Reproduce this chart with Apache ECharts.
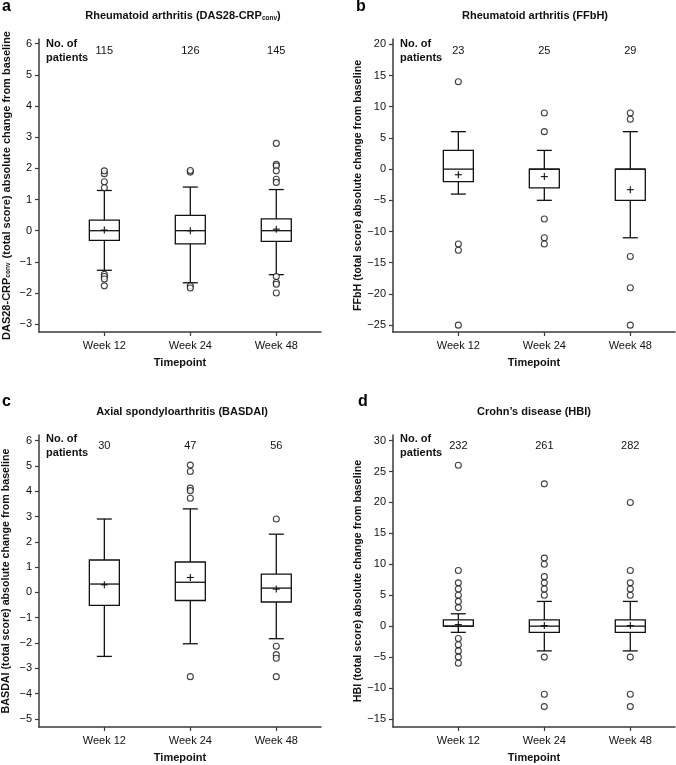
<!DOCTYPE html>
<html><head><meta charset="utf-8">
<script src="https://cdn.jsdelivr.net/npm/echarts@6/dist/echarts.min.js"></script>
<style>html,body{margin:0;padding:0;background:#fff}#c{width:676px;height:765px}</style>
</head><body><div id="c"></div>
<script>
const categories = ['Week 12', 'Week 24', 'Week 48'];

// Panel a: DAS28-CRP(conv)
const dasN = [115, 126, 145];
// [lower whisker, Q1, median, Q3, upper whisker]
const dasBox = [[-1.27, -0.31, 0, 0.34, 1.29], [-1.67, -0.42, 0, 0.49, 1.40], [-1.41, -0.34, 0, 0.38, 1.32]];
const dasMean = [0.02, 0.0, 0.05];
const dasOutliers = [[1.38, 1.57, 1.83, 1.92, -1.40, -1.47, -1.55, -1.77], [1.88, 1.93, -1.77, -1.84], [2.8, 2.13, 2.08, 1.92, 1.65, 1.55, -1.47, -1.66, -1.72, -2.0]];
const dasTicks = [-3, -2, -1, 0, 1, 2, 3, 4, 5, 6];

// Panel b: FFbH
const ffbhN = [23, 25, 29];
const ffbhBox = [[-4, -2, 0, 3, 6], [-5, -3, 0, 0, 3], [-11, -5, 0, 0, 6]];
const ffbhMean = [-0.9, -1.2, -3.3];
const ffbhOutliers = [[14, -12, -13, -25], [9, 6, -8, -11, -12], [9, 8, -14, -19, -25]];
const ffbhTicks = [-25, -20, -15, -10, -5, 0, 5, 10, 15, 20];

// Panel c: BASDAI
const basN = [30, 47, 56];
const basBox = [[-2.53, -0.51, 0.33, 1.28, 2.9], [-2.03, -0.32, 0.4, 1.2, 3.3], [-1.83, -0.38, 0.17, 0.72, 2.3]];
const basMean = [0.3, 0.59, 0.13];
const basOutliers = [[], [5.03, 4.78, 4.12, 4.02, 3.72, -3.33], [2.9, -2.13, -2.46, -2.6, -3.33]];
const basTicks = [-5, -4, -3, -2, -1, 0, 1, 2, 3, 4, 5, 6];

// Panel d: HBI
const hbiN = [232, 261, 282];
const hbiBox = [[-1, 0, 0, 1, 2], [-4, -1, 0, 1, 4], [-4, -1, 0, 1, 4]];
const hbiMean = [0.25, 0.1, 0.1];
const hbiOutliers = [[26, 9, 7, 6, 5, 4, 3, -2, -3, -4, -5, -6], [23, 11, 10, 8, 7, 6, 5, -5, -11, -13], [20, 9, 7, 6, 5, -5, -11, -13]];
const hbiTicks = [-15, -10, -5, 0, 5, 10, 15, 20, 25, 30];

const FONT = '"Liberation Sans", Arial, Helvetica, sans-serif';
const INK = '#111';
const AXIS = '#3a3a3a';

const panels = [
  { letter: 'a', title: 'Rheumatoid arthritis (DAS28-CRP{sub|conv})',
    yName: 'DAS28-CRP{sub|conv} (total score) absolute change from baseline',
    N: dasN, box: dasBox, mean: dasMean, out: dasOutliers, ticks: dasTicks,
    yMin: -3.25, yMax: 6.15, nY: 5.77, nameSize: 11,
    grid: { left: 38, top: 39, width: 283, height: 293 }, titleX: 183, titleY: 16, letterX: 2, letterY: 7 },
  { letter: 'b', title: 'Rheumatoid arthritis (FFbH)',
    yName: 'FFbH (total score) absolute change from baseline',
    N: ffbhN, box: ffbhBox, mean: ffbhMean, out: ffbhOutliers, ticks: ffbhTicks,
    yMin: -26.1, yMax: 20.85, nY: 18.9, nameSize: 10.7,
    grid: { left: 393, top: 39, width: 282, height: 293 }, titleX: 535, titleY: 16, letterX: 356, letterY: 7 },
  { letter: 'c', title: 'Axial spondyloarthritis (BASDAI)',
    yName: 'BASDAI (total score) absolute change from baseline',
    N: basN, box: basBox, mean: basMean, out: basOutliers, ticks: basTicks,
    yMin: -5.32, yMax: 6.22, nY: 5.79, nameSize: 10.7,
    grid: { left: 38, top: 435, width: 283, height: 292 }, titleX: 182, titleY: 412, letterX: 2, letterY: 402 },
  { letter: 'd', title: 'Crohn\u2019s disease (HBI)',
    yName: 'HBI (total score) absolute change from baseline',
    N: hbiN, box: hbiBox, mean: hbiMean, out: hbiOutliers, ticks: hbiTicks,
    yMin: -16.3, yMax: 30.9, nY: 29.1, nameSize: 10.7,
    grid: { left: 393, top: 435, width: 282, height: 292 }, titleX: 534, titleY: 412, letterX: 358, letterY: 402 }
];

function renderBox(params, api) {
  const x = api.value(0);
  const lo = api.coord([x, api.value(1)]);
  const q1 = api.coord([x, api.value(2)]);
  const md = api.coord([x, api.value(3)]);
  const q3 = api.coord([x, api.value(4)]);
  const hi = api.coord([x, api.value(5)]);
  const mn = api.coord([x, api.value(6)]);
  const cx = lo[0];
  const bw = 30, cw = 15, pm = 3.5;
  const st = { stroke: INK, lineWidth: 1.3, fill: null };
  return {
    type: 'group',
    children: [
      { type: 'line', shape: { x1: cx, y1: hi[1], x2: cx, y2: q3[1] }, style: st },
      { type: 'line', shape: { x1: cx, y1: q1[1], x2: cx, y2: lo[1] }, style: st },
      { type: 'line', shape: { x1: cx - cw / 2, y1: hi[1], x2: cx + cw / 2, y2: hi[1] }, style: st },
      { type: 'line', shape: { x1: cx - cw / 2, y1: lo[1], x2: cx + cw / 2, y2: lo[1] }, style: st },
      { type: 'rect', shape: { x: cx - bw / 2, y: q3[1], width: bw, height: q1[1] - q3[1] }, style: { stroke: INK, lineWidth: 1.3, fill: '#fff' } },
      { type: 'line', shape: { x1: cx - bw / 2, y1: md[1], x2: cx + bw / 2, y2: md[1] }, style: st },
      { type: 'line', shape: { x1: cx - pm, y1: mn[1], x2: cx + pm, y2: mn[1] }, style: { stroke: INK, lineWidth: 1.1 } },
      { type: 'line', shape: { x1: cx, y1: mn[1] - pm, x2: cx, y2: mn[1] + pm }, style: { stroke: INK, lineWidth: 1.1 } }
    ]
  };
}

const minus = v => String(v).replace('-', '\u2212');

const option = {
  animation: false,
  backgroundColor: '#fff',
  textStyle: { fontFamily: FONT, color: INK },
  grid: [], xAxis: [], yAxis: [], series: [], graphic: []
};

panels.forEach((p, i) => {
  option.grid.push(Object.assign({ containLabel: false }, p.grid));
  option.xAxis.push({
    gridIndex: i, type: 'value', min: 0.24, max: 3.52,
    axisLine: { show: true, onZero: false, lineStyle: { color: AXIS, width: 1.5 } },
    axisTick: { show: true, length: 4, customValues: [1, 2, 3], lineStyle: { color: AXIS, width: 1.2 } },
    axisLabel: { customValues: [1, 2, 3], formatter: v => categories[Math.round(v) - 1], fontSize: 11, color: INK, margin: 8, fontFamily: FONT },
    splitLine: { show: false },
    name: 'Timepoint', nameLocation: 'middle', nameGap: 25,
    nameTextStyle: { fontWeight: 'bold', fontSize: 11, color: INK, fontFamily: FONT }
  });
  option.yAxis.push({
    gridIndex: i, type: 'value', min: p.yMin, max: p.yMax,
    axisLine: { show: true, onZero: false, lineStyle: { color: AXIS, width: 1.5 } },
    axisTick: { show: true, length: 4, customValues: p.ticks, lineStyle: { color: AXIS, width: 1.2 } },
    axisLabel: { customValues: p.ticks, formatter: minus, fontSize: 11, color: INK, margin: 7, fontFamily: FONT },
    splitLine: { show: false },
    name: p.yName, nameLocation: 'middle', nameGap: 27, nameRotate: 90,
    nameTextStyle: { fontWeight: 'bold', fontSize: p.nameSize, color: INK, fontFamily: FONT,
      rich: { sub: { fontSize: 6.5, fontWeight: 'bold', color: INK, fontFamily: FONT, verticalAlign: 'bottom', padding: [4, 1, 0, 0] } } }
  });
  option.series.push({
    type: 'custom', xAxisIndex: i, yAxisIndex: i, renderItem: renderBox, clip: false,
    encode: { x: 0, y: [1, 2, 3, 4, 5, 6] },
    data: p.box.map((b, k) => [k + 1, b[0], b[1], b[2], b[3], b[4], p.mean[k]]), z: 2
  });
  const outs = [];
  p.out.forEach((arr, k) => arr.forEach(v => outs.push([k + 1, v])));
  option.series.push({
    type: 'scatter', xAxisIndex: i, yAxisIndex: i, data: outs, symbol: 'circle', symbolSize: 6, clip: false,
    itemStyle: { color: '#fff', borderColor: INK, borderWidth: 1.1 }, z: 3
  });
  option.series.push({
    type: 'scatter', xAxisIndex: i, yAxisIndex: i, symbolSize: 0.1, clip: false, silent: true,
    itemStyle: { color: 'transparent' },
    data: p.N.map((n, k) => [k + 1, p.nY]),
    label: { show: true, position: 'inside', formatter: q => String(p.N[q.dataIndex]), fontSize: 11, color: INK, fontFamily: FONT, textBorderWidth: 0, opacity: 1 }, z: 4
  });
  option.series.push({
    type: 'scatter', xAxisIndex: i, yAxisIndex: i, symbolSize: 0.1, clip: false, silent: true,
    itemStyle: { color: 'transparent' },
    data: [[0.24, p.nY]],
    label: { show: true, position: 'right', distance: 7, formatter: 'No. of\npatients', align: 'left', lineHeight: 14, fontSize: 11, fontWeight: 'bold', color: INK, fontFamily: FONT, textBorderWidth: 0, opacity: 1 }, z: 4
  });
  option.graphic.push({
    type: 'text', x: p.titleX, y: p.titleY,
    style: { text: p.title, align: 'center', verticalAlign: 'middle', font: 'bold 11px ' + FONT, fill: INK,
      rich: { sub: { font: 'bold 6.5px ' + FONT, fill: INK, verticalAlign: 'bottom', padding: [4, 0, 0, 0] } } }
  });
  option.graphic.push({
    type: 'text', x: p.letterX, y: p.letterY,
    style: { text: p.letter, align: 'left', verticalAlign: 'middle', font: 'bold 16px ' + FONT, fill: '#000' }
  });
});

const chart = echarts.init(document.getElementById('c'), null, { renderer: 'canvas' });
chart.setOption(option);
</script>
</body></html>
